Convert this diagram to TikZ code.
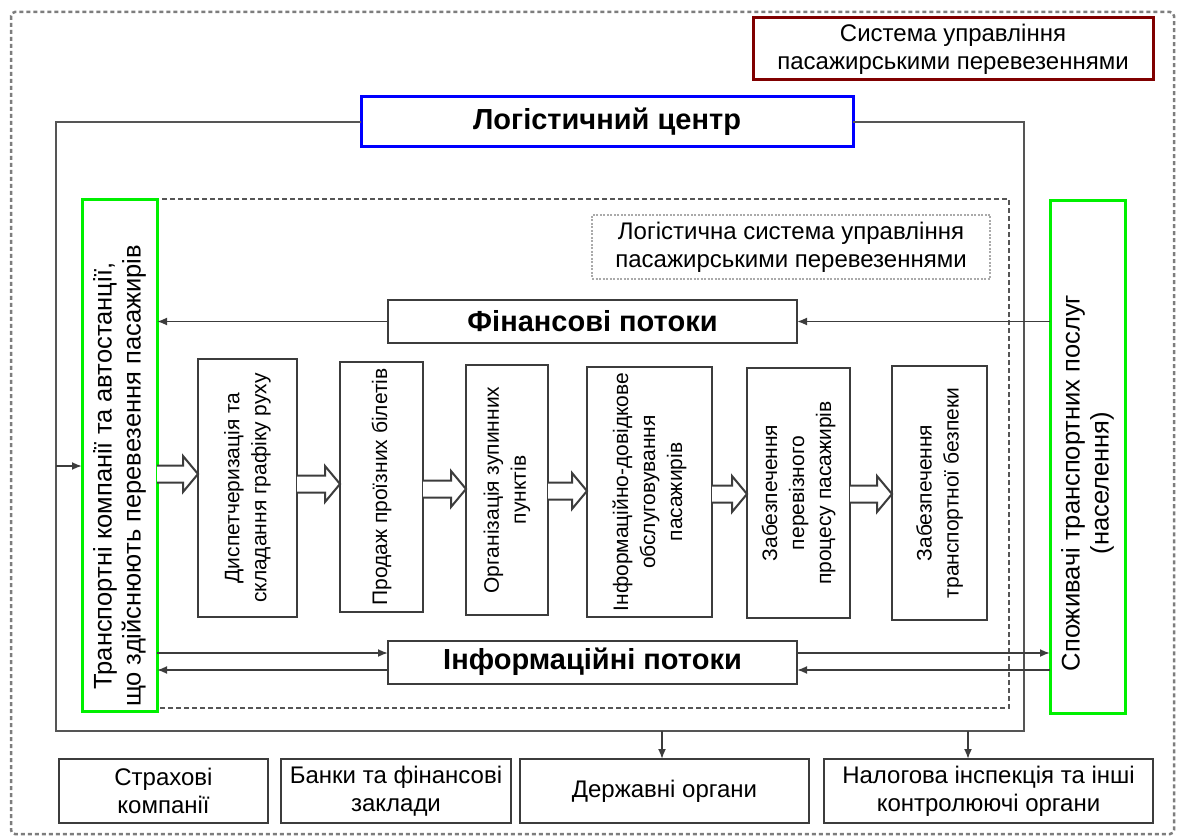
\documentclass[tikz,border=0pt]{standalone}
\usepackage{fontspec}
\setmainfont{Liberation Sans}
\usetikzlibrary{arrows.meta,calc}
\definecolor{framegray}{RGB}{85,85,85}
\definecolor{boxgray}{RGB}{60,60,60}
\definecolor{dotgray}{RGB}{125,125,125}
\definecolor{lightdot}{RGB}{170,170,170}
\definecolor{brightgreen}{RGB}{0,240,0}
\definecolor{darkred}{RGB}{128,0,0}
\begin{document}
\begin{tikzpicture}[x=1pt,y=-1pt,
    every node/.style={inner sep=0pt,outer sep=0pt},
    txt/.style={font=\fontsize{24}{28}\selectfont,align=center},
    bold/.style={font=\fontsize{29}{33}\selectfont\bfseries},
    vtxt/.style={rotate=90,font=\fontsize{21}{27}\selectfont,align=center},
    gtxt/.style={rotate=90,font=\fontsize{25.5}{29}\selectfont,align=center},
    pbox/.style={draw=boxgray,line width=2pt,fill=white},
    gbox/.style={draw=brightgreen,line width=3pt,fill=white,minimum width=75pt,minimum height=512pt},
    flowbox/.style={draw=boxgray,line width=2pt,fill=white,minimum width=409pt,minimum height=43pt,bold},
    obox/.style={draw=boxgray,line width=2pt,fill=white,minimum height=64pt,txt},
    link/.style={draw=boxgray,line width=1.8pt,-{Latex[length=10pt,width=8pt]}},
    barrow/.style={draw=boxgray,line width=2pt,fill=white,line join=miter}
]
    \useasboundingbox (0,0) rectangle (1179,837);
    \draw[dotgray,line width=2.5pt,dash pattern=on 4pt off 3pt,rounded corners=4pt] (11,12) rectangle (1174,834);

    \node[draw=darkred,line width=3pt,minimum width=400pt,minimum height=62pt,txt] (sys) at (953,49) {Система управління\\пасажирськими перевезеннями};

    \node[draw=blue,line width=3pt,fill=white,minimum width=492pt,minimum height=50pt,bold] (lc) at (607,122) {Логістичний центр};
    \coordinate (ftl) at (56,122);
    \coordinate (fbl) at (56,731);
    \coordinate (fbr) at (1024,731);
    \coordinate (ftr) at (1024,122);
    \draw[framegray,line width=2pt] (lc.west) -- (ftl) -- (fbl) -- (fbr) -- (ftr) -- (lc.east);

    \draw[framegray,line width=1.5pt,dash pattern=on 5pt off 3pt] (157,199) rectangle (1009,708);
    \node[draw=lightdot,line width=1.2pt,dash pattern=on 2pt off 1.5pt,minimum width=398pt,minimum height=64pt,txt] (lsl) at (791,247) {Логістична система управління\\пасажирськими перевезеннями};

    \node[gbox] (tc) at (119.5,455.5) {};
    \node[gtxt] at (119.5,476) {Транспортні компанії та автостанції,\\що здійснюють перевезення пасажирів};
    \node[gbox] (sp) at (1087.5,457) {};
    \node[gtxt] at (1087.5,483) {Споживачі транспортних послуг\\(населення)};

    \node[flowbox] (fin) at (592.5,321.5) {Фінансові потоки};
    \node[flowbox] (inf) at (592.5,662) {Інформаційні потоки};

    \node[pbox,minimum width=99pt,minimum height=258pt] (p1) at (247.5,488) {};
    \node[vtxt] at (p1) {Диспетчеризація та\\складання графіку руху};
    \node[pbox,minimum width=83pt,minimum height=250pt] (p2) at (381.5,487) {};
    \node[vtxt] at (p2) {Продаж проїзних білетів};
    \node[pbox,minimum width=82pt,minimum height=250pt] (p3) at (507,490) {};
    \node[vtxt] at (p3) {Організація зупинних\\пунктів};
    \node[pbox,minimum width=125pt,minimum height=250pt] (p4) at (649.5,492) {};
    \node[vtxt] at (p4) {Інформаційно-довідкове\\обслуговування\\пасажирів};
    \node[pbox,minimum width=103pt,minimum height=250pt] (p5) at (798.5,493) {};
    \node[vtxt] at (p5) {Забезпечення\\перевізного\\процесу пасажирів};
    \node[pbox,minimum width=95pt,minimum height=254pt] (p6) at (939.5,493) {};
    \node[vtxt] at (p6) {Забезпечення\\транспортної безпеки};

    \foreach \a/\b/\h in {tc/p1/474,p1/p2/484,p2/p3/489,p3/p4/491,p4/p5/494,p5/p6/494} {
        \coordinate (hy) at (0,\h);
        \draw[barrow] let \p1=(\a.east |- hy), \p2=(\b.west |- hy) in
            (\x1,\y1+8.5pt) -- (\x2-15pt,\y1+8.5pt) -- (\x2-15pt,\y1+18pt) -- (\x2,\y1)
            -- (\x2-15pt,\y1-18pt) -- (\x2-15pt,\y1-8.5pt) -- (\x1,\y1-8.5pt);
    }

    \coordinate (fl) at (56,466);
    \draw[link] (fl) -- (fl -| tc.west);
    \draw[link] (sp.west |- fin.east) -- (fin.east);
    \draw[link] (fin.west) -- (fin.west -| tc.east);
    \coordinate (iwu) at ([yshift=9pt]inf.west);
    \coordinate (iwl) at ([yshift=-8pt]inf.west);
    \coordinate (ieu) at ([yshift=9pt]inf.east);
    \coordinate (iel) at ([yshift=-8pt]inf.east);
    \draw[link] (iwu -| tc.east) -- (iwu);
    \draw[link] (iwl) -- (iwl -| tc.east);
    \draw[link] (ieu) -- (ieu -| sp.west);
    \draw[link] (iel -| sp.west) -- (iel);

    \node[obox,minimum width=209pt] (ins) at (163.5,791) {Страхові\\компанії};
    \node[obox,minimum width=230pt] (bank) at (396,791) {Банки та фінансові\\заклади};
    \node[obox,minimum width=289pt] (gov) at (664.5,791) {Державні органи};
    \node[obox,minimum width=329pt] (tax) at (988.5,791) {Налогова інспекція та інші\\контролюючі органи};
    \coordinate (d1) at (662,731);
    \coordinate (d2) at (968,731);
    \draw[link] (d1) -- (d1 |- gov.north);
    \draw[link] (d2) -- (d2 |- tax.north);
\end{tikzpicture}
\end{document}
